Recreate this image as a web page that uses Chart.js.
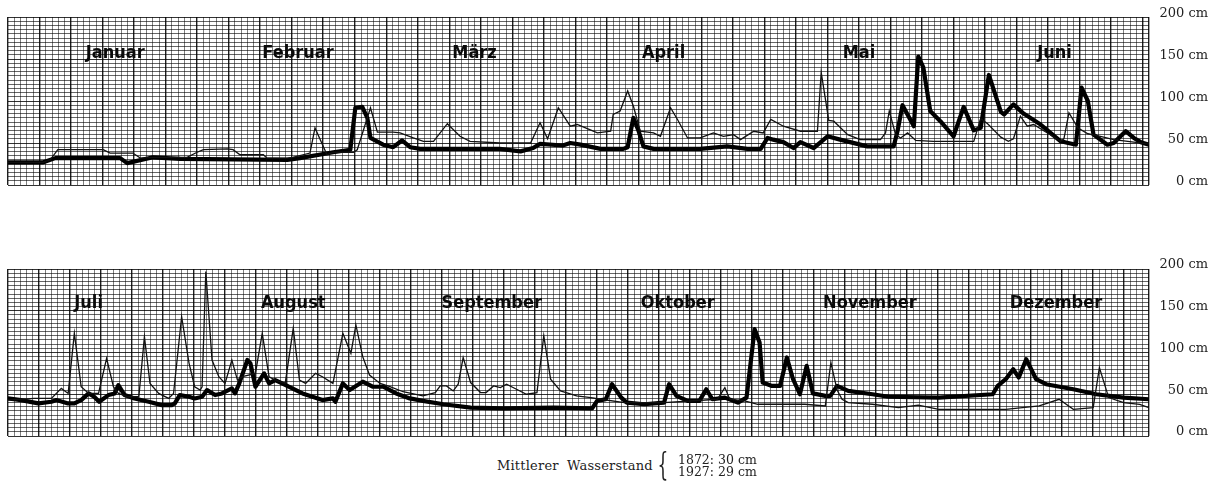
<!DOCTYPE html>
<html lang="de">
<head>
<meta charset="utf-8">
<title>Wasserstand 1872 / 1927</title>
<script src="https://cdn.jsdelivr.net/npm/chart.js@4.4.1/dist/chart.umd.min.js"></script>
<style>
  html, body { margin: 0; padding: 0; background: #fff; }
  body { width: 1218px; height: 489px; position: relative; overflow: hidden; }
  .panel { position: absolute; left: 0; width: 1218px; height: 200px; }
  #panelTop { top: 0; }
  #panelBottom { top: 250px; }
  .cap { position: absolute; font-family: 'DejaVu Serif', serif; font-size: 13px; line-height: 13px; color: #222; white-space: nowrap; }
</style>
</head>
<body>
<div class="panel" id="panelTop"><canvas id="chartTop" width="1218" height="200"></canvas></div>
<div class="panel" id="panelBottom"><canvas id="chartBottom" width="1218" height="200"></canvas></div>

<div class="cap" id="capText" style="left:497px; top:459px; word-spacing:4px; letter-spacing:0.2px;"></div>
<div class="cap" id="capBrace" style="left:653px; top:449px; font-size:31px; line-height:31px; transform:scaleX(0.55);">{</div>
<div class="cap" id="capLine1" style="left:678px; top:453px; font-size:12.5px;"></div>
<div class="cap" id="capLine2" style="left:678px; top:465px; font-size:12.5px;"></div>

<script>
// --- Daten: Tag seit Halbjahresbeginn / Wasserstand in cm ---

// Januar - Juni
const monthsTop = ['Januar', 'Februar', 'März', 'April', 'Mai', 'Juni'];
const monthLabelDaysTop = [17, 46, 74, 104, 135, 166];
const daysTop = 181;

// duenne Linie
const topThinDays = [0, 5.6, 6.7, 7.9, 15.1, 16.2, 19.8, 21, 23, 28.4,
  30, 31, 34.8, 35.7, 36.8, 40.5, 41.1, 44.3, 45.2, 47.9,
  48.7, 50.6, 51.6, 54.8, 55.4, 57.5, 58.6, 61.1, 62.2, 64.3,
  65.9, 67.5, 69.7, 71.7, 73.3, 78.1, 82.9, 84.4, 85.6, 87.3,
  89.2, 90.3, 91.9, 93.5, 95.6, 96, 97.1, 98.3, 99.2, 100.3,
  102.4, 103.5, 105.1, 106.2, 107.8, 109.8, 111.9, 113.5, 115.1, 116.2,
  118.3, 119.8, 121, 123, 125.7, 128.4, 129, 130.2, 131, 133.2,
  135.2, 138.4, 139.2, 139.8, 140.8, 141.6, 142.7, 144, 146.8, 153.2,
  154.3, 155.4, 157.5, 158.7, 159.5, 160.6, 161.7, 162.7, 167, 167.5,
  168.3, 169.7, 171.3, 173.3, 175.4, 178.6, 181];
const topThinCm = [27, 27, 30, 42, 42, 38, 38, 32, 33, 33,
  39, 42, 43, 42, 36, 36, 32, 32, 33, 38,
  68, 36, 39, 39, 42, 92, 63, 63, 62, 56,
  52, 52, 73, 58, 52, 50, 50, 74, 55, 92,
  70, 72, 67, 62, 64, 84, 88, 112, 94, 64,
  62, 58, 92, 78, 56, 56, 62, 58, 60, 54,
  64, 62, 78, 70, 64, 64, 134, 77, 76, 60,
  54, 54, 62, 88, 60, 56, 62, 53, 52, 52,
  79, 73, 57, 52, 55, 82, 70, 72, 52, 55,
  86, 68, 61, 58, 54, 51, 49];

// dicke Linie
const topThickDays = [0, 5.6, 7.5, 17.8, 18.9, 23, 27.3, 44.3, 46.3, 51.6,
  54.3, 55.1, 56.2, 57, 57.5, 59.5, 61.1, 62.5, 63.8, 65.4,
  78, 81.3, 83.3, 84.4, 88, 89.2, 90.8, 94, 97.6, 98.3,
  99.2, 100, 100.8, 102.4, 109.8, 114.1, 117.3, 119.4, 120.5, 121.4,
  123, 124.6, 125.7, 127.8, 130, 132, 136.3, 140.5, 141.1, 141.9,
  143.7, 144.4, 145.2, 146.3, 147.9, 150, 151.6, 153.2, 154.3, 155.6,
  157.5, 158, 159.5, 161.1, 163.8, 167, 169.4, 170.3, 171.3, 172.2,
  174.4, 175.4, 177.3, 178.6, 179.7, 181];
const topThickCm = [27, 27, 32, 32, 26, 33, 31, 30, 32, 39,
  42, 92, 93, 80, 56, 48, 45, 53, 45, 43,
  43, 40, 44, 49, 47, 50, 48, 43, 43, 45,
  80, 65, 46, 43, 43, 46, 43, 43, 56, 54,
  51, 44, 51, 44, 58, 54, 46, 46, 64, 95,
  70, 153, 140, 88, 76, 58, 93, 65, 68, 131,
  87, 84, 96, 85, 72, 52, 48, 116, 100, 60,
  48, 50, 64, 56, 51, 48];

// Juli - Dezember
const monthsBottom = ['Juli', 'August', 'September', 'Oktober', 'November', 'Dezember'];
const monthLabelDaysBottom = [13, 46, 78, 108, 139, 169];
const daysBottom = 184;

const bottomThinDays = [0, 4.2, 7, 8.6, 9.7, 10.7, 11.8, 13, 14.6, 15.9,
  17, 17.8, 19.4, 21.1, 22, 22.9, 24.3, 25.9, 26.7, 28,
  29.2, 30.1, 31, 31.3, 31.9, 32.9, 34, 35, 36.1, 37,
  37.8, 39.9, 41, 42.1, 43.1, 44.7, 46, 47, 48, 49.6,
  50.7, 52.4, 54, 55.3, 56.1, 57.2, 58.3, 60, 61.6, 63.7,
  66.9, 68.9, 69.7, 70.7, 71.8, 72.6, 73.4, 74.6, 76.2, 77.1,
  78.3, 79.4, 80.4, 82, 83.6, 85.3, 86.4, 87.5, 89.1, 91.7,
  94, 95.6, 99.4, 105.8, 114.4, 115.6, 116.4, 118.8, 120.9, 128.5,
  131.8, 132.7, 133.7, 134.5, 135.5, 139.4, 143.6, 146.8, 150.1, 160.9,
  166.3, 169.5, 171.8, 175, 176, 177.5, 179.9, 182.5, 184];
const bottomThinCm = [43, 45, 45, 57, 51, 123, 59, 51, 51, 93,
  59, 51, 47, 47, 119, 63, 51, 45, 51, 143,
  87, 59, 55, 59, 197, 91, 71, 63, 91, 67,
  71, 75, 123, 71, 67, 63, 129, 67, 63, 75,
  71, 63, 123, 99, 133, 95, 73, 63, 59, 53,
  48, 52, 60, 60, 54, 62, 94, 64, 52, 52,
  60, 58, 62, 56, 50, 52, 120, 68, 54, 48,
  46, 44, 40, 40, 44, 58, 44, 42, 38, 38,
  36, 88, 55, 44, 40, 38, 34, 37, 32, 32,
  36, 44, 32, 34, 82, 46, 40, 38, 34];

const bottomThickDays = [0, 2.1, 4.9, 7, 7.8, 9.7, 10.7, 11.8, 13, 13.9,
  14.7, 16.2, 17.2, 17.8, 18.8, 20.4, 22.7, 24.8, 26.4, 26.9,
  27.7, 29.2, 30.1, 31.3, 32.1, 33.4, 34.5, 36.1, 36.6, 37.3,
  38.6, 39.1, 39.9, 41.3, 42.1, 43.1, 44.2, 47.5, 50.7, 52.4,
  52.8, 54, 55.1, 57.2, 58.8, 60.5, 62.6, 64.8, 66.9, 70.2,
  74.6, 79.9, 88, 94.2, 95, 96.4, 97.4, 98.9, 99.8, 102.6,
  105.8, 106.6, 107.8, 109.6, 111.5, 112.6, 113.6, 115.6, 117.7, 119.1,
  120.4, 121.2, 121.7, 123.2, 124.5, 125.6, 126.6, 127.7, 128.8, 129.8,
  131.8, 132.6, 133.7, 135.5, 139.4, 142, 150.1, 158.8, 159.6, 160.9,
  162.1, 163, 164.2, 165.8, 167.4, 171.8, 175.5, 179.9, 184];
const bottomThickCm = [45, 43, 39, 41, 43, 39, 39, 43, 51, 47,
  41, 49, 51, 61, 49, 45, 41, 37, 37, 39,
  49, 47, 45, 47, 55, 49, 51, 57, 51, 63,
  91, 87, 59, 75, 63, 67, 63, 51, 43, 45,
  41, 63, 55, 65, 59, 59, 51, 45, 42, 38,
  34, 33, 34, 33, 42, 44, 62, 46, 40, 38,
  40, 62, 48, 42, 42, 56, 44, 46, 40, 46,
  128, 112, 64, 60, 60, 94, 68, 50, 84, 51,
  48, 48, 60, 54, 50, 47, 46, 50, 60, 68,
  80, 70, 92, 68, 62, 56, 50, 46, 44];

// Achse rechts
const yTickValues = [0, 50, 100, 150, 200];
const yUnit = 'cm';

// Legende unten
const captionTitle = 'Mittlerer Wasserstand';
const captionYears = ['1872', '1927'];
const captionMeans = [30, 29];

// --- Zeichnen ---

function toPoints(days, cm) {
  return days.map((d, i) => ({ x: d, y: cm[i] }));
}

function range(from, to, step) {
  const out = [];
  for (let v = from; v <= to; v += step) out.push({ value: v });
  return out;
}

// Monatsnamen auf dem Millimeterpapier
const monthLabels = {
  id: 'monthLabels',
  afterDatasetsDraw(chart, args, opts) {
    const { ctx, chartArea, scales } = chart;
    ctx.save();
    ctx.font = 'bold 18px "DejaVu Sans Condensed", "DejaVu Sans", sans-serif';
    ctx.fillStyle = '#0a0a0a';
    ctx.textAlign = 'center';
    ctx.textBaseline = 'middle';
    opts.names.forEach((name, i) => {
      ctx.fillText(name, scales.x.getPixelForValue(opts.days[i]), chartArea.top + opts.offset);
    });
    ctx.restore();
  }
};

function makeChart(id, cfg) {
  return new Chart(document.getElementById(id), {
    type: 'line',
    data: {
      datasets: [
        {
          label: captionYears[0],
          data: toPoints(cfg.thinDays, cfg.thinCm),
          borderColor: '#111',
          borderWidth: 1.3,
          pointRadius: 0,
          tension: 0
        },
        {
          label: captionYears[1],
          data: toPoints(cfg.thickDays, cfg.thickCm),
          borderColor: '#000',
          borderWidth: 4.2,
          pointRadius: 0,
          tension: 0,
          borderJoinStyle: 'round',
          borderCapStyle: 'round'
        }
      ]
    },
    options: {
      responsive: false,
      animation: false,
      layout: { padding: { left: 8, right: 10, top: cfg.padTop, bottom: 0 } },
      plugins: {
        legend: { display: false },
        tooltip: { enabled: false },
        monthLabels: { names: cfg.months, days: cfg.labelDays, offset: cfg.labelOffset }
      },
      scales: {
        x: {
          type: 'linear',
          min: 0,
          max: cfg.days,
          afterBuildTicks: s => { s.ticks = range(0, cfg.days, 1); },
          afterFit: s => { s.height = cfg.padBottom; },
          ticks: { display: false },
          border: { display: false },
          grid: {
            drawTicks: false,
            color: c => (c.tick.value % 5 === 0 || c.tick.value === cfg.days) ? 'rgba(0,0,0,0.88)' : 'rgba(0,0,0,0.5)',
            lineWidth: c => (c.tick.value % 5 === 0 || c.tick.value === cfg.days) ? 1.4 : 1
          }
        },
        y: {
          position: 'right',
          min: 0,
          max: 200,
          afterBuildTicks: s => { s.ticks = range(0, 200, 5); },
          afterFit: s => { s.width = 59; },
          border: { display: false },
          ticks: {
            autoSkip: false,
            crossAlign: 'far',
            padding: 0,
            labelOffset: cfg.tickShift,
            color: '#222',
            font: { family: 'DejaVu Serif', size: 13 },
            callback: v => yTickValues.includes(v) ? v + ' ' + yUnit : ''
          },
          grid: {
            drawTicks: false,
            color: c => (c.tick.value % 50 === 0) ? 'rgba(0,0,0,0.8)' : 'rgba(0,0,0,0.6)',
            lineWidth: 1
          }
        }
      }
    },
    plugins: [monthLabels]
  });
}

makeChart('chartTop', {
  months: monthsTop, labelDays: monthLabelDaysTop, days: daysTop,
  thinDays: topThinDays, thinCm: topThinCm, thickDays: topThickDays, thickCm: topThickCm,
  padTop: 17, padBottom: 15, labelOffset: 36, tickShift: -3
});

makeChart('chartBottom', {
  months: monthsBottom, labelDays: monthLabelDaysBottom, days: daysBottom,
  thinDays: bottomThinDays, thinCm: bottomThinCm, thickDays: bottomThickDays, thickCm: bottomThickCm,
  padTop: 19, padBottom: 14, labelOffset: 34, tickShift: -4
});

document.getElementById('capText').textContent = captionTitle;
document.getElementById('capLine1').textContent = captionYears[0] + ': ' + captionMeans[0] + ' ' + yUnit;
document.getElementById('capLine2').textContent = captionYears[1] + ': ' + captionMeans[1] + ' ' + yUnit;
</script>
</body>
</html>
